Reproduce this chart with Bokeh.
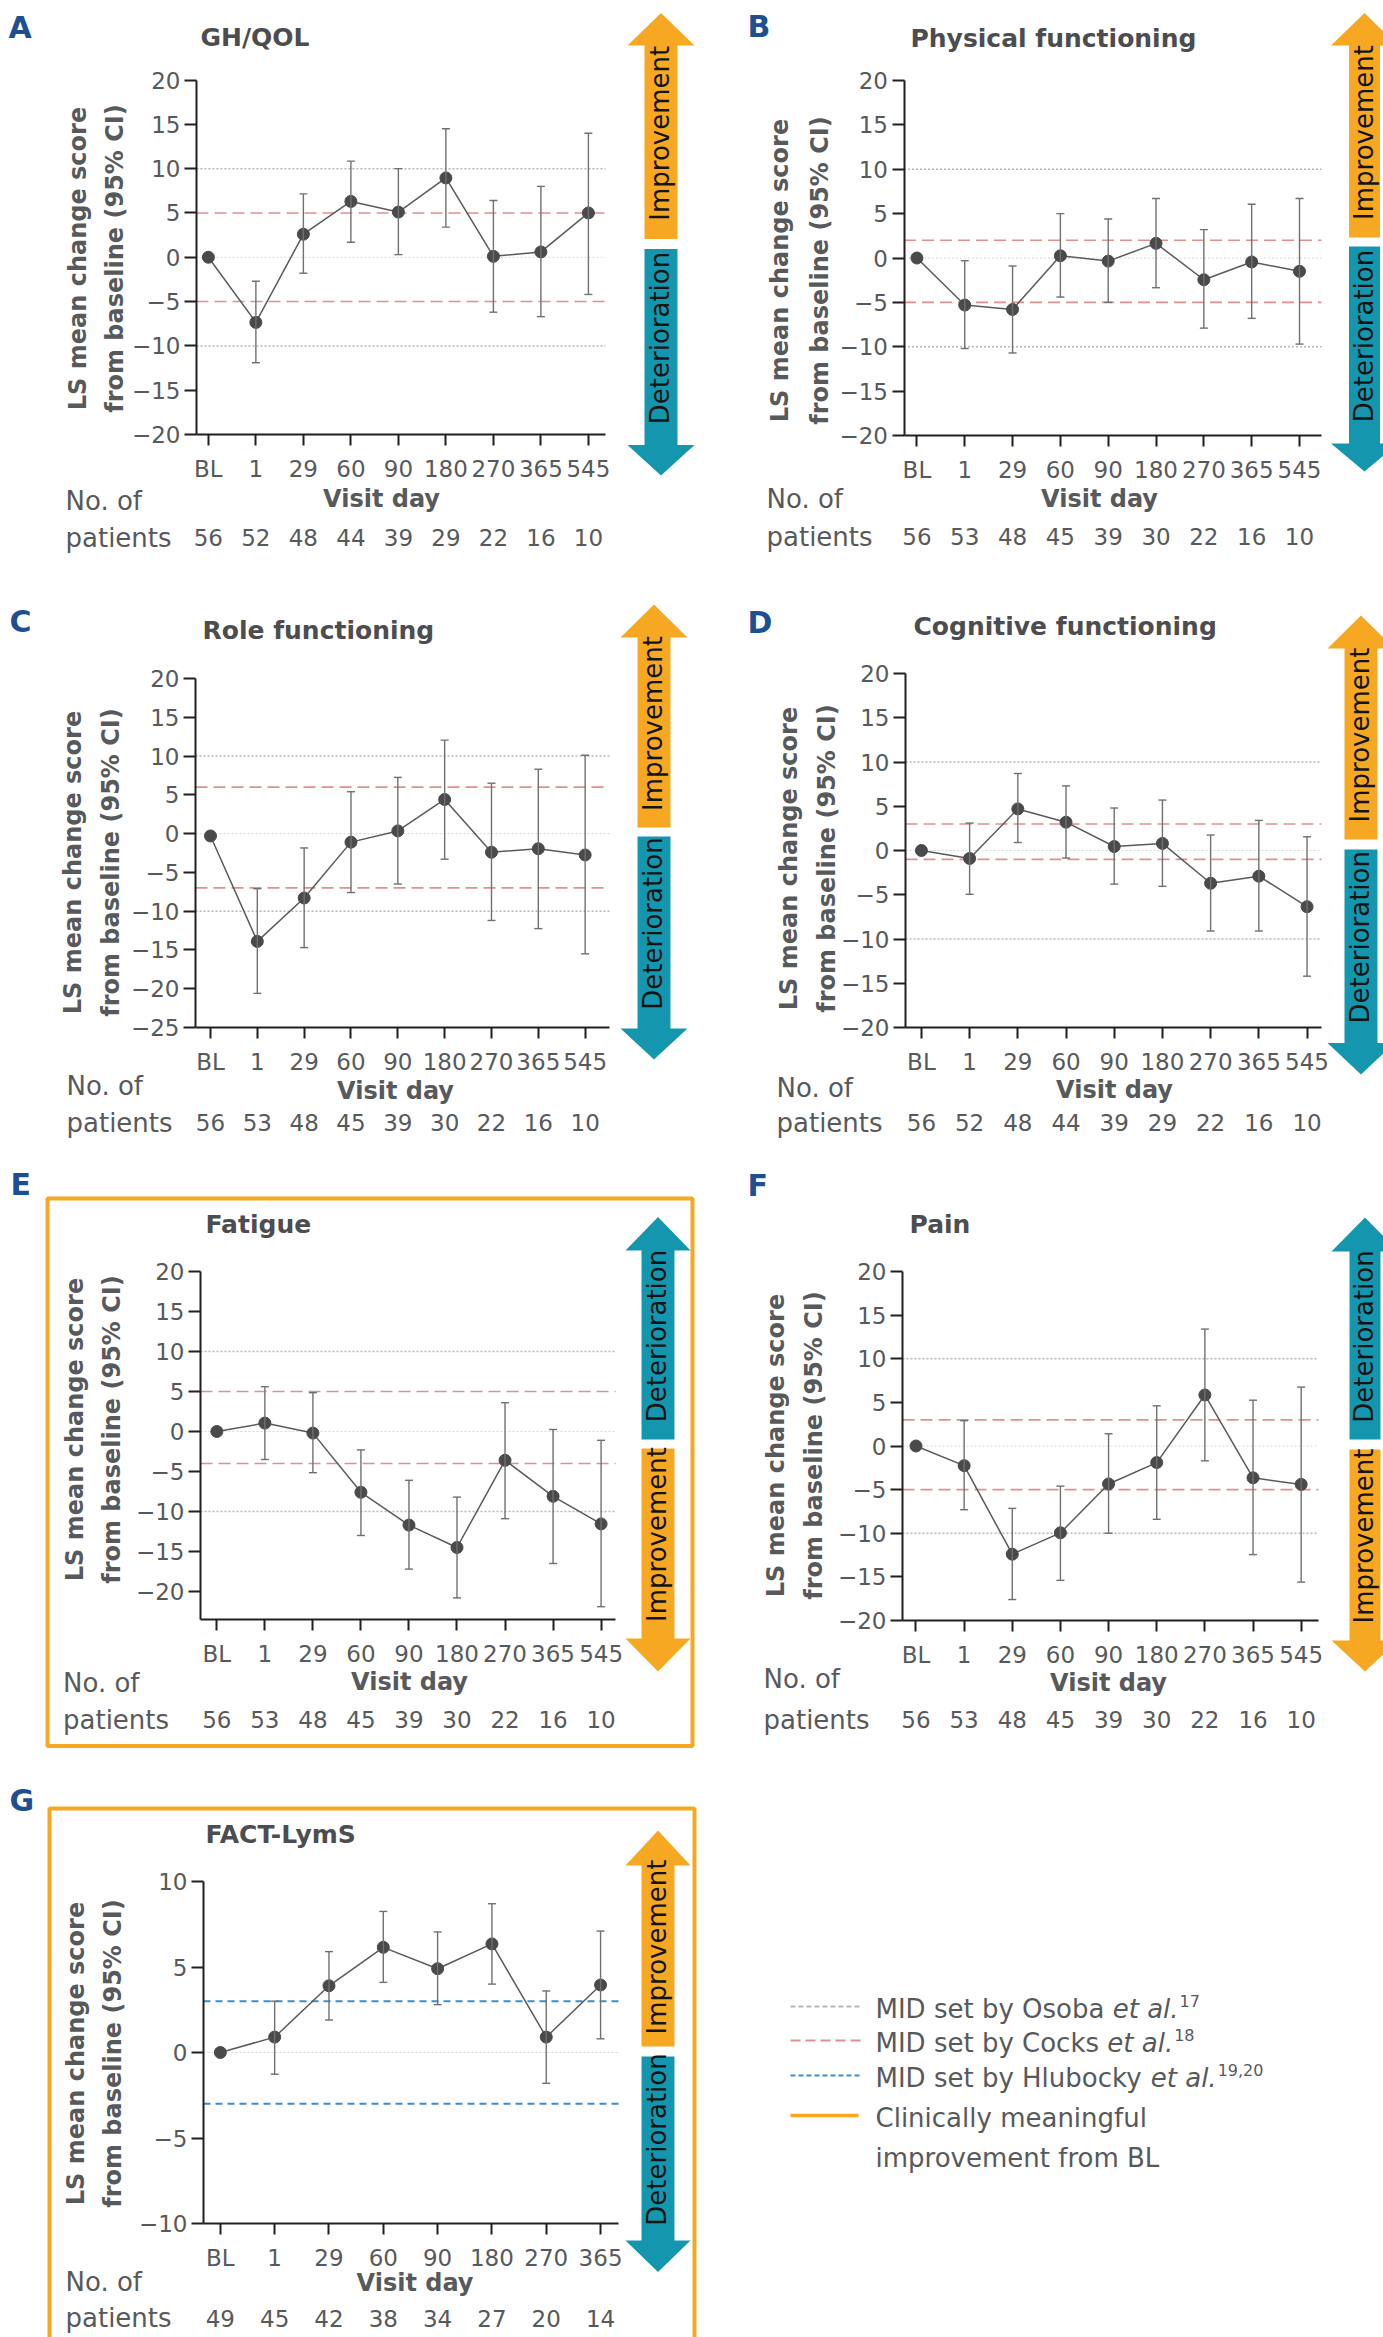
import math
from bokeh.plotting import figure
from bokeh.models import (ColumnDataSource, Range1d, FixedTicker, Label, LabelSet,
                          PolyAnnotation, Whisker, TeeHead)
from bokeh.layouts import row, column
from bokeh.embed import file_html
from bokeh.resources import INLINE
from bokeh.core.properties import value

# ---------------------------------------------------------------- data
visits9 = ["BL", "1", "29", "60", "90", "180", "270", "365", "545"]
visits8 = ["BL", "1", "29", "60", "90", "180", "270", "365"]

ghqol_mean = [0, -7.35, 2.6, 6.3, 5.1, 8.95, 0.1, 0.6, 5.0]
ghqol_lo = [None, -11.9, -1.8, 1.7, 0.3, 3.4, -6.2, -6.7, -4.2]
ghqol_hi = [None, -2.7, 7.15, 10.85, 10.0, 14.5, 6.4, 8.0, 14.0]
ghqol_n = [56, 52, 48, 44, 39, 29, 22, 16, 10]

phys_mean = [0, -5.3, -5.8, 0.25, -0.35, 1.65, -2.45, -0.45, -1.5]
phys_lo = [None, -10.2, -10.7, -4.4, -5.0, -3.35, -7.9, -6.8, -9.7]
phys_hi = [None, -0.3, -0.9, 5.0, 4.4, 6.7, 3.2, 6.05, 6.7]
phys_n = [56, 53, 48, 45, 39, 30, 22, 16, 10]

role_mean = [-0.3, -13.9, -8.3, -1.1, 0.35, 4.4, -2.4, -1.95, -2.75]
role_lo = [None, -20.6, -14.7, -7.6, -6.5, -3.3, -11.2, -12.25, -15.5]
role_hi = [None, -7.1, -1.85, 5.4, 7.25, 12.05, 6.5, 8.3, 10.1]
role_n = [56, 53, 48, 45, 39, 30, 22, 16, 10]

cog_mean = [0, -0.9, 4.7, 3.2, 0.45, 0.8, -3.7, -2.9, -6.35]
cog_lo = [None, -4.95, 0.9, -0.85, -3.8, -4.05, -9.1, -9.1, -14.2]
cog_hi = [None, 3.1, 8.7, 7.3, 4.8, 5.7, 1.75, 3.4, 1.55]
cog_n = [56, 52, 48, 44, 39, 29, 22, 16, 10]

fat_mean = [0, 1.05, -0.2, -7.6, -11.7, -14.5, -3.6, -8.1, -11.55]
fat_lo = [None, -3.5, -5.15, -13.0, -17.2, -20.8, -10.9, -16.5, -21.9]
fat_hi = [None, 5.6, 4.85, -2.3, -6.1, -8.2, 3.6, 0.25, -1.1]
fat_n = [56, 53, 48, 45, 39, 30, 22, 16, 10]

pain_mean = [0, -2.25, -12.4, -9.95, -4.35, -1.9, 5.85, -3.65, -4.4]
pain_lo = [None, -7.3, -17.6, -15.4, -10.0, -8.4, -1.7, -12.45, -15.6]
pain_hi = [None, 2.9, -7.15, -4.6, 1.4, 4.6, 13.4, 5.25, 6.75]
pain_n = [56, 53, 48, 45, 39, 30, 22, 16, 10]

lyms_mean = [0, 0.9, 3.9, 6.15, 4.9, 6.35, 0.9, 3.95]
lyms_lo = [None, -1.27, 1.9, 4.1, 2.8, 4.0, -1.8, 0.8]
lyms_hi = [None, 3.0, 5.9, 8.25, 7.05, 8.7, 3.6, 7.1]
lyms_n = [49, 45, 42, 38, 34, 27, 20, 14]

mid_osoba = [10, -10]
mid_cocks_ghqol = [5, -5]
mid_cocks_phys = [2, -5]
mid_cocks_role = [6, -7]
mid_cocks_cog = [3, -1]
mid_cocks_fat = [5, -4]
mid_cocks_pain = [3, -5]
mid_hlubocky = [3, -3]

ticks_40 = [-20, -15, -10, -5, 0, 5, 10, 15, 20]
ticks_45 = [-25, -20, -15, -10, -5, 0, 5, 10, 15, 20]
ticks_10 = [-10, -5, 0, 5, 10]

# ---------------------------------------------------------------- style
FONT = "DejaVu Sans"
TXT = "#58595b"
TITLE_C = "#4d4d4f"
AXIS_C = "#231f20"
ORANGE = "#F7A823"
TEAL = "#1497AE"
LETTER_C = "#1D4F91"
OSOBA_C = "#b8b8b8"
COCKS_C = "#df9090"
HLUB_C = "#3b8ed0"


def minus(t):
    return ("\u2212" + str(abs(t))) if t < 0 else str(t)


def build_panel(sp):
    ox, oy, fw, fh = sp["box"]
    L, T, R, B = sp["frame"]
    xs, xe = sp["xr"]
    ys, ye = sp["yr"]

    def X(px):
        return xs + (px - L) * (xe - xs) / (R - L)

    def Y(py):
        return ye - (py - T) * (ye - ys) / (B - T)

    p = figure(width=fw, height=fh, x_range=Range1d(X(ox), X(ox + fw)),
               y_range=Range1d(Y(oy + fh), Y(oy)),
               output_backend="svg", toolbar_location=None, title=None, min_border=0)
    p.outline_line_color = None
    p.grid.visible = False
    p.background_fill_color = "white"
    p.border_fill_color = "white"

    cats = sp["cats"]
    n = len(cats)
    xa = p.xaxis[0]
    ya = p.yaxis[0]
    xa.fixed_location = ys
    xa.bounds = (xs, xe)
    ya.fixed_location = xs
    ya.bounds = (ys, ye)
    xa.ticker = FixedTicker(ticks=list(range(n)))
    xa.major_label_overrides = {i: c for i, c in enumerate(cats)}
    ya.ticker = FixedTicker(ticks=sp["yticks"])
    ya.major_label_overrides = {t: minus(t) for t in sp["yticks"]}
    for ax in (xa, ya):
        ax.axis_line_color = AXIS_C
        ax.axis_line_width = 2
        ax.major_tick_line_color = AXIS_C
        ax.major_tick_line_width = 2
        ax.minor_tick_line_color = None
        ax.major_tick_in = 0
        ax.major_label_text_font = FONT
        ax.major_label_text_font_size = "23px"
        ax.major_label_text_color = TXT
    xa.major_tick_out = 11
    xa.major_label_standoff = 10
    ya.major_tick_out = 12
    ya.major_label_standoff = 4

    # reference (MID) lines, limited to the axis extent
    def hlines(vals, color, dash, width):
        if vals:
            p.segment(x0=[xs] * len(vals), x1=[xe] * len(vals), y0=vals, y1=vals,
                      line_color=color, line_dash=dash, line_width=width)

    hlines([0], "#dadada", "2 2", 1.2)
    hlines(sp.get("osoba", []), OSOBA_C, "2 2", 1.5)
    hlines(sp.get("cocks", []), COCKS_C, "12 6", 1.6)
    hlines(sp.get("hlub", []), HLUB_C, "7 5", 2)

    # data
    idx = list(range(n))
    src = ColumnDataSource(dict(x=idx, y=sp["mean"]))
    ci_x = [i for i in idx if sp["lo"][i] is not None]
    ci_src = ColumnDataSource(dict(x=ci_x, lo=[sp["lo"][i] for i in ci_x],
                                   hi=[sp["hi"][i] for i in ci_x]))
    p.add_layout(Whisker(source=ci_src, base="x", lower="lo", upper="hi",
                         line_color="#707070", line_width=1.4, level="glyph",
                         upper_head=TeeHead(size=8, line_color="#707070", line_width=1.4),
                         lower_head=TeeHead(size=8, line_color="#707070", line_width=1.4)))
    p.line("x", "y", source=src, line_color="#5a5a5a", line_width=1.5)
    p.scatter("x", "y", source=src, size=12, fill_color="#4a4a4c", line_color="#4a4a4c")

    # orange frame (clinically meaningful improvement)
    if sp.get("frame_box"):
        bl, bt, br, bb = sp["frame_box"]
        p.add_layout(PolyAnnotation(xs=[X(bl), X(br), X(br), X(bl)],
                                    ys=[Y(bt), Y(bt), Y(bb), Y(bb)],
                                    fill_alpha=0, line_color=ORANGE, line_alpha=1,
                                    line_width=4))

    # direction arrows
    a = sp["arrow"]
    cx, hw, sw = a["cx"], a["hw"], a["sw"]
    up_xs = [cx, cx + hw, cx + sw, cx + sw, cx - sw, cx - sw, cx - hw]
    up_ys = [a["tip1"], a["hb1"], a["hb1"], a["end1"], a["end1"], a["hb1"], a["hb1"]]
    lo_xs = [cx - sw, cx + sw, cx + sw, cx + hw, cx, cx - hw, cx - sw]
    lo_ys = [a["start2"], a["start2"], a["hb2"], a["hb2"], a["tip2"], a["hb2"], a["hb2"]]
    p.patch([X(v) for v in up_xs], [Y(v) for v in up_ys], fill_color=a["c1"], line_color=None)
    p.patch([X(v) for v in lo_xs], [Y(v) for v in lo_ys], fill_color=a["c2"], line_color=None)
    for t, yc in ((a["t1"], (a["hb1"] + a["end1"]) / 2 - 9),
                  (a["t2"], (a["start2"] + a["hb2"]) / 2 - 9)):
        p.add_layout(Label(x=X(cx - 1), y=Y(yc), text=t, angle=math.pi / 2,
                           text_align="center", text_baseline="middle", text_font=FONT,
                           text_font_size="26px", text_color="#141414"))

    # panel letter and title
    lx, ly = sp["letter_pos"]
    p.add_layout(Label(x=X(lx), y=Y(ly), text=sp["letter"], text_align="left",
                       text_baseline="middle", text_font=FONT, text_font_size="30px",
                       text_font_style="bold", text_color=LETTER_C))
    tx, ty = sp["title_pos"]
    p.add_layout(Label(x=X(tx), y=Y(ty), text=sp["title"], text_align="left",
                       text_baseline="middle", text_font=FONT, text_font_size="25px",
                       text_font_style="bold", text_color=TITLE_C))

    # y-axis title (two lines)
    y1x, y2x, ycy = sp["ytitle"]
    for txt, xx in (("LS mean change score", y1x), ("from baseline (95% CI)", y2x)):
        p.add_layout(Label(x=X(xx), y=Y(ycy), text=txt, angle=math.pi / 2,
                           text_align="center", text_baseline="middle", text_font=FONT,
                           text_font_size="24px", text_font_style="bold", text_color=TXT))

    # x-axis title and number of patients
    vx, vy = sp["visit_pos"]
    p.add_layout(Label(x=X(vx), y=Y(vy), text="Visit day", text_align="center",
                       text_baseline="middle", text_font=FONT, text_font_size="24px",
                       text_font_style="bold", text_color=TXT))
    nx, ny, py_ = sp["nof"]
    p.add_layout(Label(x=X(nx), y=Y(ny), text="No. of", text_align="left",
                       text_baseline="middle", text_font=FONT, text_font_size="26px",
                       text_color=TXT))
    p.add_layout(Label(x=X(nx), y=Y(py_), text="patients", text_align="left",
                       text_baseline="middle", text_font=FONT, text_font_size="26px",
                       text_color=TXT))
    cnt_src = ColumnDataSource(dict(x=idx, y=[Y(py_)] * n, t=[str(c) for c in sp["n"]]))
    p.add_layout(LabelSet(x="x", y="y", text="t", source=cnt_src, text_align="center",
                          text_baseline="middle", text_font=value(FONT),
                          text_font_size=value("23px"), text_color=TXT))
    return p


# page grid (the page template has no body margin)
LEFT = (0, 697)
RIGHT = (697, 686)
ROWS = [(0, 575), (575, 575), (1150, 620), (1770, 567)]


def boxof(col, r):
    return (col[0], ROWS[r][0], col[1], ROWS[r][1])


up_imp = dict(c1=ORANGE, c2=TEAL, t1="Improvement", t2="Deterioration")
up_det = dict(c1=TEAL, c2=ORANGE, t1="Deterioration", t2="Improvement")

specs = [
    dict(box=boxof(LEFT, 0), frame=(196, 79.5, 605, 434), xr=(-0.25, 8.36), yr=(-20, 20),
         yticks=ticks_40, cats=visits9, mean=ghqol_mean, lo=ghqol_lo, hi=ghqol_hi, n=ghqol_n,
         osoba=mid_osoba, cocks=mid_cocks_ghqol, letter="A", letter_pos=(8, 27),
         title="GH/QOL", title_pos=(200, 37), ytitle=(77, 114, 258), visit_pos=(381, 498),
         nof=(65, 500, 537),
         arrow=dict(cx=660.5, hw=33.5, sw=16.5, tip1=12.5, hb1=45, end1=238.5, start2=248.5,
                    hb2=444.5, tip2=475, **up_imp)),
    dict(box=boxof(RIGHT, 0), frame=(903.5, 80, 1321, 435), xr=(-0.27, 8.46), yr=(-20, 20),
         yticks=ticks_40, cats=visits9, mean=phys_mean, lo=phys_lo, hi=phys_hi, n=phys_n,
         osoba=mid_osoba, cocks=mid_cocks_phys, letter="B", letter_pos=(747, 26),
         title="Physical functioning", title_pos=(910, 38), ytitle=(779.5, 819, 270),
         visit_pos=(1099, 498), nof=(766, 498, 536),
         arrow=dict(cx=1364, hw=33.5, sw=15.5, tip1=12.5, hb1=45, end1=237, start2=246,
                    hb2=443, tip2=471, **up_imp)),
    dict(box=boxof(LEFT, 1), frame=(195, 678, 609, 1027), xr=(-0.32, 8.52), yr=(-25, 20),
         yticks=ticks_45, cats=visits9, mean=role_mean, lo=role_lo, hi=role_hi, n=role_n,
         osoba=mid_osoba, cocks=mid_cocks_role, letter="C", letter_pos=(9, 621),
         title="Role functioning", title_pos=(202, 630), ytitle=(72.5, 110, 862),
         visit_pos=(395, 1090), nof=(66, 1085, 1122),
         arrow=dict(cx=653.5, hw=33.5, sw=16.5, tip1=604, hb1=637, end1=827, start2=836,
                    hb2=1028, tip2=1059, **up_imp)),
    dict(box=boxof(RIGHT, 1), frame=(905, 673, 1321, 1027), xr=(-0.33, 8.3), yr=(-20, 20),
         yticks=ticks_40, cats=visits9, mean=cog_mean, lo=cog_lo, hi=cog_hi, n=cog_n,
         osoba=mid_osoba, cocks=mid_cocks_cog, letter="D", letter_pos=(747, 622),
         title="Cognitive functioning", title_pos=(913, 626), ytitle=(788, 826, 858),
         visit_pos=(1114, 1089), nof=(776, 1087, 1122),
         arrow=dict(cx=1360.5, hw=33.5, sw=16.5, tip1=615, hb1=648, end1=839, start2=849,
                    hb2=1042.5, tip2=1074, **up_imp)),
    dict(box=boxof(LEFT, 2), frame=(200, 1271, 615, 1619), xr=(-0.34, 8.3), yr=(-23.5, 20),
         yticks=ticks_40, cats=visits9, mean=fat_mean, lo=fat_lo, hi=fat_hi, n=fat_n,
         osoba=mid_osoba, cocks=mid_cocks_fat, letter="E", letter_pos=(10, 1184),
         title="Fatigue", title_pos=(205, 1224), ytitle=(74, 111, 1429),
         visit_pos=(409, 1681), nof=(62.5, 1682, 1719), frame_box=(47, 1198, 692, 1745.5),
         arrow=dict(cx=657.5, hw=32.5, sw=16.5, tip1=1216.6, hb1=1250, end1=1439, start2=1448,
                    hb2=1638, tip2=1671, **up_det)),
    dict(box=boxof(RIGHT, 2), frame=(902, 1271, 1318, 1620), xr=(-0.28, 8.36), yr=(-20, 20),
         yticks=ticks_40, cats=visits9, mean=pain_mean, lo=pain_lo, hi=pain_hi, n=pain_n,
         osoba=mid_osoba, cocks=mid_cocks_pain, letter="F", letter_pos=(747, 1185),
         title="Pain", title_pos=(909, 1224), ytitle=(775, 813, 1445),
         visit_pos=(1108, 1682), nof=(763, 1678.5, 1719),
         arrow=dict(cx=1364.5, hw=33.5, sw=15.5, tip1=1217, hb1=1251, end1=1439, start2=1449,
                    hb2=1640, tip2=1671, **up_det)),
    dict(box=boxof(LEFT, 3), frame=(203, 1881, 618, 2223), xr=(-0.31, 7.33), yr=(-10, 10),
         yticks=ticks_10, cats=visits8, mean=lyms_mean, lo=lyms_lo, hi=lyms_hi, n=lyms_n,
         hlub=mid_hlubocky, letter="G", letter_pos=(9, 1800),
         title="FACT-LymS", title_pos=(205, 1834), ytitle=(75, 112.5, 2053),
         visit_pos=(414.5, 2282.5), nof=(65, 2281, 2317.5), frame_box=(49, 1808, 694, 2380),
         arrow=dict(cx=657.5, hw=32.5, sw=16.5, tip1=1830, hb1=1865, end1=2046, start2=2056,
                    hb2=2240, tip2=2271.5, **up_imp)),
]

panels = [build_panel(s) for s in specs]

# ---------------------------------------------------------------- legend panel
DV = {"M": .863, "I": .295, "D": .770, " ": .318, "s": .521, "e": .615, "t": .392,
      "b": .635, "y": .592, "O": .787, "o": .612, "a": .613, "C": .698, "c": .550,
      "k": .579, "H": .752, "l": .278, "u": .634, ".": .318}


def tw(s, size):
    return sum(DV.get(ch, .6) for ch in s) * size


lox, loy, lw, lh = boxof(RIGHT, 3)
leg = figure(width=lw, height=lh, x_range=Range1d(lox, lox + lw),
             y_range=Range1d(-(loy + lh), -loy),
             output_backend="svg", toolbar_location=None, title=None,
             x_axis_type=None, y_axis_type=None, min_border=0)
leg.outline_line_color = None
leg.grid.visible = False
leg.background_fill_color = "white"

legend_items = [
    ("MID set by Osoba ", "17", OSOBA_C, "5 3"),
    ("MID set by Cocks ", "18", COCKS_C, "10 5"),
    ("MID set by Hlubocky ", "19,20", HLUB_C, "5 3"),
]
row_y = [2006, 2040, 2075]
TX0 = 875
FS = 26
for (txt, sup, col, dash), yy in zip(legend_items, row_y):
    leg.segment(x0=[790], y0=[-yy], x1=[860], y1=[-yy], line_color=col, line_dash=dash,
                line_width=2)
    leg.text(x=[TX0], y=[-(yy + 2)], text=[txt], text_font=value(FONT),
             text_font_size="26px", text_color=TXT, text_baseline="middle",
             text_align="left")
    ix = TX0 + tw(txt, FS)
    leg.text(x=[ix], y=[-(yy + 2)], text=["et al."], text_font=value(FONT),
             text_font_size="26px", text_font_style="italic", text_color=TXT,
             text_baseline="middle", text_align="left")
    sx = ix + tw("et al.", FS) + 1
    leg.text(x=[sx], y=[-(yy - 6)], text=[sup], text_font=value(FONT),
             text_font_size="16px", text_color=TXT, text_baseline="middle",
             text_align="left")
leg.segment(x0=[790], y0=[-2115], x1=[858], y1=[-2115], line_color=ORANGE, line_width=3.5)
leg.text(x=[TX0, TX0], y=[-2117, -2157], text=["Clinically meaningful", "improvement from BL"],
         text_font=value(FONT), text_font_size="26px", text_color=TXT,
         text_baseline="middle", text_align="left")

layout = column(
    row(panels[0], panels[1]),
    row(panels[2], panels[3]),
    row(panels[4], panels[5]),
    row(panels[6], leg),
)

open("out.html", "w").write(file_html(layout, INLINE))
